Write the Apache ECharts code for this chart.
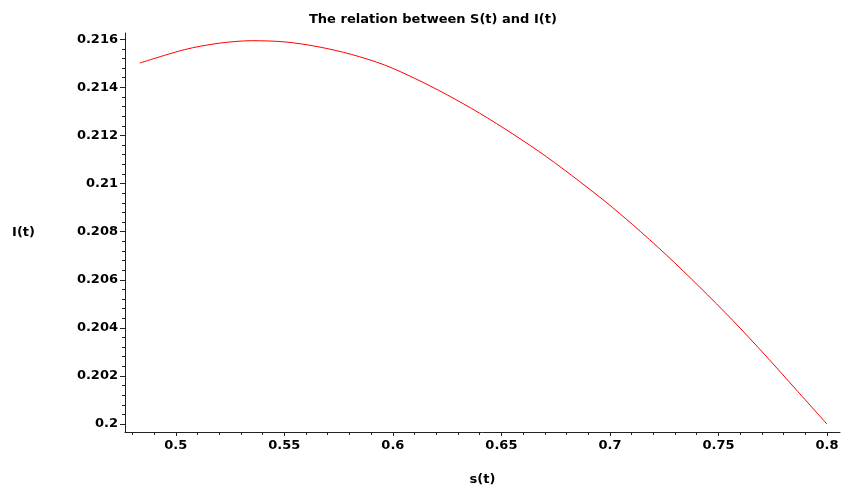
<!DOCTYPE html>
<html>
<head>
<meta charset="utf-8">
<script src="https://cdn.jsdelivr.net/npm/echarts@6/dist/echarts.min.js"></script>
<style>html,body{margin:0;padding:0;background:#fff}#c{width:844px;height:491px}</style>
</head>
<body>
<div id="c"></div>
<script>
// Data (S(t), I(t))
var sValues = [0.4834, 0.5041, 0.5195, 0.5349, 0.5502, 0.5655, 0.5809, 0.5962, 0.6104, 0.6246, 0.6399, 0.6553, 0.6707, 0.6860, 0.6983, 0.7105, 0.7259, 0.7412, 0.7566, 0.7719, 0.7857, 0.8000];
var iValues = [0.21501, 0.21557, 0.21583, 0.21594, 0.21589, 0.21569, 0.21537, 0.21493, 0.21436, 0.21371, 0.21293, 0.21206, 0.21112, 0.21009, 0.20922, 0.20829, 0.20704, 0.20571, 0.20431, 0.20283, 0.20144, 0.20000];
var xTickLabels = ['0.5', '0.55', '0.6', '0.65', '0.7', '0.75', '0.8'];
var yTickLabels = ['0.2', '0.202', '0.204', '0.206', '0.208', '0.21', '0.212', '0.214', '0.216'];
var titleText = 'The relation between S(t) and I(t)';
var xName = 's(t)';
var yName = 'I(t)';

var xMajor = xTickLabels.map(parseFloat);
var yMajor = yTickLabels.map(parseFloat);
var xMinor = [], yMinor = [];
for (var k = 48; k <= 80; k++) { if (k % 5 !== 0) xMinor.push(k / 100); }
for (var m = 0; m <= 40; m++) { if (m % 5 !== 0) yMinor.push(0.2 + m * 0.0004); }

var pts = sValues.map(function (s, i) { return [s, iValues[i]]; });
var xMin = 0.4766, xMax = 0.806, yMin = 0.19967, yMax = 0.21626;
var FONT = 'DejaVu Sans';
var axisCol = '#222';
function findLabel(arr, labels, v) {
  for (var j = 0; j < arr.length; j++) { if (Math.abs(arr[j] - v) < 1e-9) return labels[j]; }
  return String(v);
}
var lblStyle = { fontFamily: FONT, fontSize: 13, fontWeight: 'bold', color: '#000' };

var chart = echarts.init(document.getElementById('c'), null, { renderer: 'canvas' });
chart.setOption({
  animation: false,
  backgroundColor: '#fff',
  title: {
    text: titleText, left: 304, top: 8,
    textStyle: { fontFamily: FONT, fontSize: 13, fontWeight: 'bold', color: '#000' }
  },
  grid: { left: 125, right: 4, top: 33, bottom: 55 },
  xAxis: [{
    type: 'value', min: xMin, max: xMax, position: 'bottom',
    name: xName, nameLocation: 'middle', nameGap: 41,
    nameTextStyle: lblStyle,
    axisLine: { show: true, onZero: false, lineStyle: { color: axisCol, width: 1 } },
    axisTick: { show: true, customValues: xMajor, length: 4, inside: false, lineStyle: { color: axisCol } },
    axisLabel: Object.assign({ customValues: xMajor, formatter: function (v) { return findLabel(xMajor, xTickLabels, v); }, margin: 7 }, lblStyle),
    splitLine: { show: false }
  }, {
    type: 'value', min: xMin, max: xMax, position: 'bottom',
    axisLine: { show: false, onZero: false },
    axisTick: { show: true, customValues: xMinor, length: 3, lineStyle: { color: axisCol } },
    axisLabel: { show: false },
    splitLine: { show: false }
  }],
  yAxis: [{
    type: 'value', min: yMin, max: yMax, position: 'left',
    name: yName, nameLocation: 'middle', nameGap: 90, nameRotate: 0,
    nameTextStyle: lblStyle,
    axisLine: { show: true, onZero: false, lineStyle: { color: axisCol, width: 1 } },
    axisTick: { show: true, customValues: yMajor, length: 5, lineStyle: { color: axisCol } },
    axisLabel: Object.assign({ customValues: yMajor, formatter: function (v) { return findLabel(yMajor, yTickLabels, v); }, margin: 7 }, lblStyle),
    splitLine: { show: false }
  }, {
    type: 'value', min: yMin, max: yMax, position: 'left',
    axisLine: { show: false, onZero: false },
    axisTick: { show: true, customValues: yMinor, length: 3, lineStyle: { color: axisCol } },
    axisLabel: { show: false },
    splitLine: { show: false }
  }],
  series: [{
    type: 'line', xAxisIndex: 0, yAxisIndex: 0,
    data: pts, smooth: 0.3, showSymbol: false,
    lineStyle: { color: '#ff0000', width: 1 }
  }]
});
</script>
</body>
</html>
